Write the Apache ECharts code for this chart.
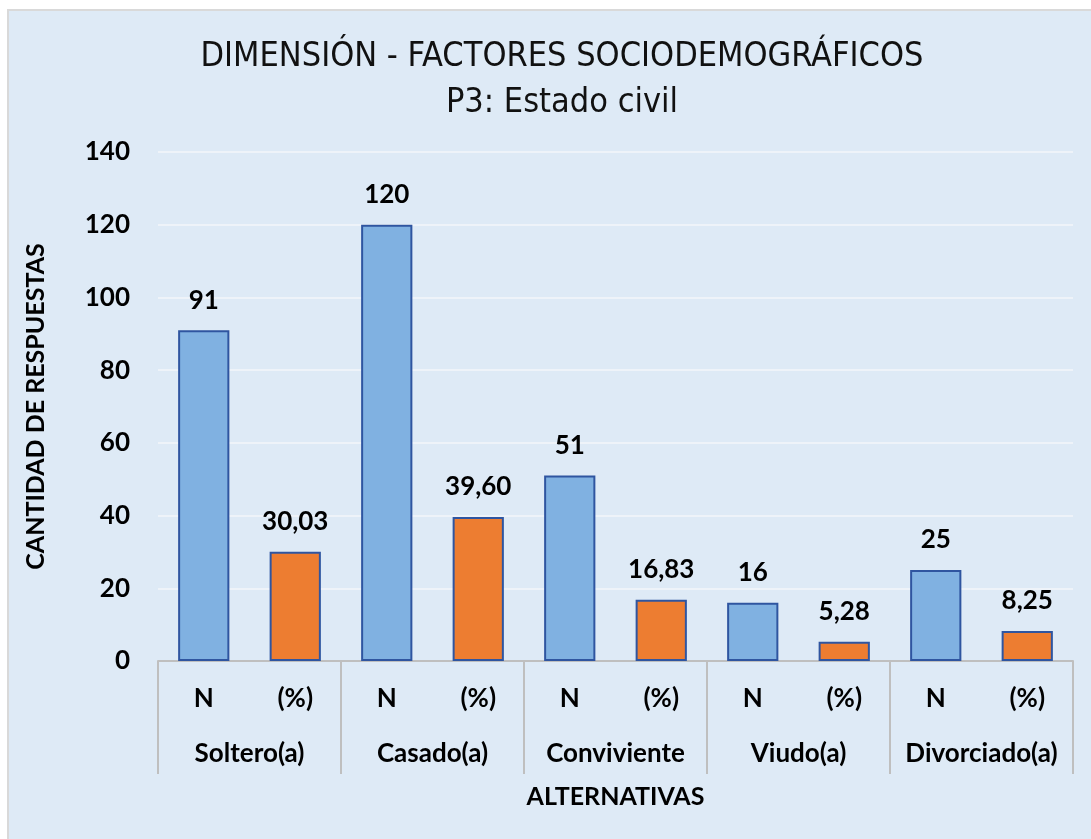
<!DOCTYPE html>
<html>
<head>
<meta charset="utf-8">
<title>P3: Estado civil</title>
<script src="https://cdn.jsdelivr.net/npm/echarts@6/dist/echarts.min.js"></script>
<style>
  html, body { margin: 0; padding: 0; background: #ffffff; }
  #main {
    position: absolute;
    left: 7px;
    top: 9px;
    width: 1084px;
    height: 830px;
    border-left: 2px solid #d9d9d9;
    border-top: 2px solid #d9d9d9;
    background: #deeaf6;
  }
</style>
</head>
<body>
<div id="main"></div>
<script>
// grupos (segundo nivel del eje X)
const groups = ["Soltero(a)", "Casado(a)", "Conviviente", "Viudo(a)", "Divorciado(a)"];
// sub-categorías (primer nivel del eje X)
const subLabels = ["N", "(%)"];
// valores
const nValues = [91, 120, 51, 16, 25];
const pctValues = [30.03, 39.60, 16.83, 5.28, 8.25];
const yTicks = { min: 0, max: 140, interval: 20 };

const FONT = "Lato, 'Liberation Sans', sans-serif";
const TITLE_FONT = "'Liberation Sans Narrow', 'DejaVu Sans Condensed', Lato, sans-serif";
const BLUE = "#80b1e1";
const ORANGE = "#ed7d31";
const BORDER = "#2f55a0";

// se arma la lista plana de 10 barras: N, (%), N, (%), ...
let categories = [];
let barData = [];
for (let i = 0; i < groups.length; i++) {
  categories.push(subLabels[0], subLabels[1]);
  barData.push({ value: nValues[i], itemStyle: { color: BLUE } });
  barData.push({ value: pctValues[i], itemStyle: { color: ORANGE } });
}

const myChart = echarts.init(document.getElementById("main"));

const boldText = { color: "#000", fontFamily: FONT, fontSize: 26, fontWeight: "bold" };

const option = {
  animation: false,
  textStyle: { fontFamily: FONT },
  title: [
    {
      text: "DIMENSIÓN - FACTORES SOCIODEMOGRÁFICOS",
      left: 548,
      top: 24,
      textAlign: "center",
      textStyle: { fontFamily: TITLE_FONT, fontSize: 34, fontWeight: "normal", color: "#111" }
    },
    {
      text: "P3: Estado civil",
      left: 548,
      top: 70,
      textAlign: "center",
      textStyle: { fontFamily: TITLE_FONT, fontSize: 34, fontWeight: "normal", color: "#111" }
    }
  ],
  grid: {
    left: 149,
    top: 141,
    right: 20,
    bottom: 180
  },
  xAxis: [
    {
      type: "category",
      data: categories,
      position: "bottom",
      axisLine: { show: true, lineStyle: { color: "#bfbfbf", width: 2 } },
      axisTick: { show: false },
      axisLabel: Object.assign({ margin: 25, interval: 0 }, boldText),
      name: "ALTERNATIVAS",
      nameLocation: "middle",
      nameGap: 123,
      nameTextStyle: Object.assign({}, boldText, { fontSize: 25 })
    },
    {
      type: "category",
      data: groups,
      position: "bottom",
      axisLine: { show: false },
      axisTick: {
        show: true,
        interval: 0,
        length: 113,
        lineStyle: { color: "#bfbfbf", width: 2 }
      },
      axisLabel: Object.assign({ margin: 80, interval: 0 }, boldText)
    }
  ],
  yAxis: {
    type: "value",
    min: yTicks.min,
    max: yTicks.max,
    interval: yTicks.interval,
    axisLine: { show: false },
    axisTick: { show: false },
    axisLabel: Object.assign({ margin: 28 }, boldText),
    splitLine: { lineStyle: { color: "#eef3f9", width: 2 } },
    name: "CANTIDAD DE RESPUESTAS",
    nameLocation: "middle",
    nameGap: 110,
    nameTextStyle: Object.assign({}, boldText, { fontSize: 25 })
  },
  series: [
    {
      type: "bar",
      xAxisIndex: 0,
      barWidth: "56%",
      data: barData,
      itemStyle: { borderColor: BORDER, borderWidth: 2 },
      label: Object.assign({
        show: true,
        position: "top",
        distance: 17,
        formatter: function (p) {
          if (p.dataIndex % 2 === 0) return String(p.value);
          return p.value.toFixed(2).replace(".", ",");
        }
      }, boldText)
    }
  ]
};

myChart.setOption(option);
</script>
</body>
</html>
